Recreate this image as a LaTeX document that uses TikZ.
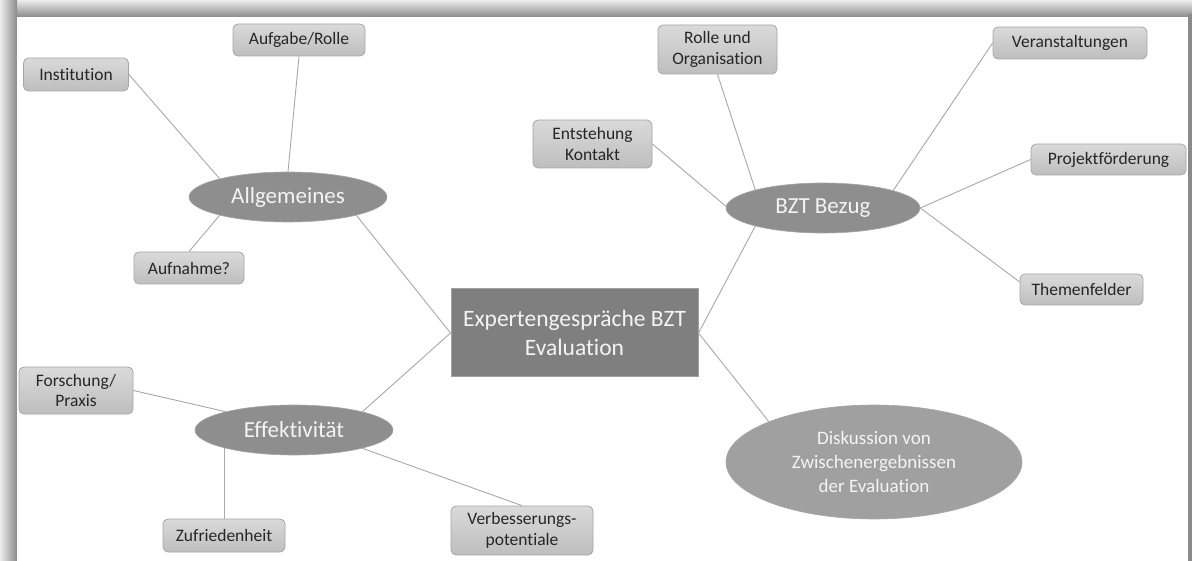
\documentclass[tikz,border=0pt]{standalone}
\usepackage{fontspec}
\setmainfont[Ligatures={NoCommon}]{Carlito}
\usetikzlibrary{shapes.geometric,backgrounds}
\definecolor{linegray}{HTML}{A8A8A8}
\definecolor{boxtop}{HTML}{DADADA}
\definecolor{boxbot}{HTML}{BEBEBE}
\definecolor{boxline}{HTML}{A6A6A6}
\definecolor{ellfill}{HTML}{8E8E8E}
\definecolor{ellfilllight}{HTML}{A0A0A0}
\definecolor{centerfill}{HTML}{7F7F7F}
\definecolor{framedark}{HTML}{8A8A8A}
\definecolor{framelight}{HTML}{EDEDED}
\definecolor{textwhite}{HTML}{F4F4F4}
\tikzset{
  leafbox/.style={draw=boxline, line width=0.8pt, rounded corners=5pt,
    top color=boxtop, bottom color=boxbot, inner sep=0pt,
    font=\fontsize{17.5}{20.5}\selectfont, text=black!85, align=center},
  topicell/.style={ellipse, draw=boxline, line width=0.6pt, fill=ellfill, inner sep=0pt,
    font=\fontsize{23}{27}\selectfont, text=textwhite, align=center},
  centerbox/.style={draw=ellfilllight, line width=1pt, fill=centerfill, inner sep=0pt,
    font=\fontsize{23.5}{29}\selectfont, text=textwhite, align=center},
  link/.style={draw=linegray, line width=0.9pt}
}
\begin{document}
\begin{tikzpicture}[x=1pt,y=-1pt]
\useasboundingbox (0,0) rectangle (1192,561);
% frame
\begin{scope}[on background layer]
\fill[white] (0,0) rectangle (1192,561);
\shade[top color=framelight, bottom color=framedark] (0,0) rectangle (1192,17);
\shade[left color=framelight, right color=framedark] (0,0) rectangle (17,561);
\fill[white] (17,17) rectangle (1188,561);
\fill[framedark] (1188,14) rectangle (1192,561);
\end{scope}

% center
\node[centerbox, minimum width=247pt, minimum height=88pt] (c) at (574.5,333) {Expertengespräche BZT\\Evaluation};

% topics
\node[topicell, minimum width=198pt, minimum height=50pt] (al) at (288,197) {Allgemeines};
\node[topicell, minimum width=198pt, minimum height=50pt] (ef) at (294,430) {Effektivität};
\node[topicell, minimum width=194pt, minimum height=50pt] (bz) at (823,208) {BZT Bezug};
\node[topicell, fill=ellfilllight, minimum width=296pt, minimum height=114pt,
  font=\fontsize{19}{24}\selectfont] (di) at (874,462) {Diskussion von\\Zwischenergebnissen\\der Evaluation};

% leaves
\node[leafbox, minimum width=132pt, minimum height=32pt] (ar) at (299,40) {Aufgabe/Rolle};
\node[leafbox, minimum width=105pt, minimum height=33pt] (in) at (76,74.5) {Institution};
\node[leafbox, minimum width=110pt, minimum height=32pt] (au) at (189,268) {Aufnahme?};
\node[leafbox, minimum width=114pt, minimum height=47pt] (fp) at (76,390.5) {Forschung/\\Praxis};
\node[leafbox, minimum width=122pt, minimum height=33pt] (zu) at (224,535.5) {Zufriedenheit};
\node[leafbox, minimum width=142pt, minimum height=49pt] (vp) at (522,530.5) {Verbesserungs-\\potentiale};
\node[leafbox, minimum width=119pt, minimum height=49pt] (ro) at (717.5,49.5) {Rolle und\\Organisation};
\node[leafbox, minimum width=119pt, minimum height=48pt] (ek) at (592.5,144) {Entstehung\\Kontakt};
\node[leafbox, minimum width=154pt, minimum height=32pt] (va) at (1070,43) {Veranstaltungen};
\node[leafbox, minimum width=155pt, minimum height=31pt] (pf) at (1108.5,159.5) {Projektförderung};
\node[leafbox, minimum width=123pt, minimum height=31pt] (tf) at (1081.5,289.5) {Themenfelder};

% connectors
\draw[link] (c.west) -- (al.-15);
\draw[link] (c.west) -- (ef.15);
\draw[link] (c.east) -- (bz.195);
\draw[link] (c.east) -- (di.159);
\draw[link] (in.east) -- (al.165);
\draw[link] (ar.south) -- (al.north);
\draw[link] (au.north) -- (al.195);
\draw[link] (fp.east) -- (ef.165);
\draw[link] (zu.north) -- (zu.north |- ef.195);
\draw[link] (vp.north) -- (ef.-15);
\draw[link] (ro.south) -- (bz.165);
\draw[link] (ek.east) -- (bz.179);
\draw[link] (va.west) -- (bz.14);
\draw[link] (pf.west) -- (bz.east);
\draw[link] (tf.173) -- (bz.east);
\end{tikzpicture}
\end{document}
